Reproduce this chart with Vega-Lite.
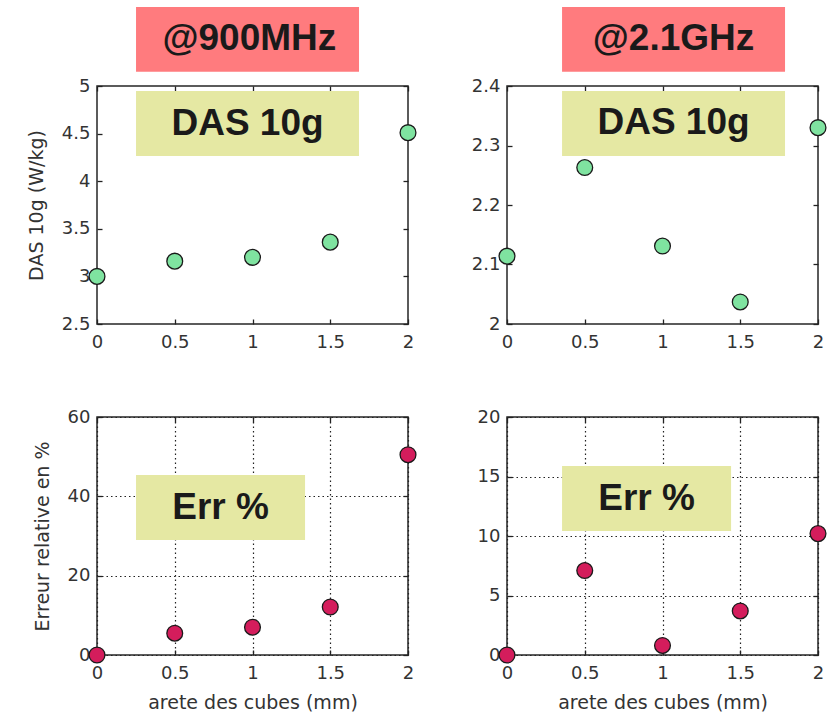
{
  "$schema": "https://vega.github.io/schema/vega-lite/v6.json",
  "autosize": {"type": "pad"},
  "padding": {"left": 26, "top": 6, "right": 0, "bottom": 0},
  "background": "white",
  "config": {
    "view": {"stroke": "#262626", "strokeWidth": 1.5},
    "numberFormat": "~r",
    "axis": {
      "labelFont": "DejaVu Sans",
      "labelFontSize": 18,
      "labelColor": "#333333",
      "labelFlush": false,
      "labelOverlap": false,
      "titleFont": "DejaVu Sans",
      "titleFontSize": 19,
      "titleFontWeight": "normal",
      "titleColor": "#333333",
      "tickColor": "#222222",
      "tickWidth": 1.3,
      "tickSize": -5,
      "domain": false,
      "grid": false
    },
    "axisX": {"labelPadding": 14, "titlePadding": 11},
    "axisY": {"labelPadding": 12, "titlePadding": 15}
  },
  "datasets": {
    "das900": [
      {"arete": 0, "das": 3.0},
      {"arete": 0.5, "das": 3.16},
      {"arete": 1, "das": 3.2},
      {"arete": 1.5, "das": 3.36},
      {"arete": 2, "das": 4.51}
    ],
    "das2100": [
      {"arete": 0, "das": 2.114},
      {"arete": 0.5, "das": 2.263},
      {"arete": 1, "das": 2.131},
      {"arete": 1.5, "das": 2.037},
      {"arete": 2, "das": 2.33}
    ],
    "err900": [
      {"arete": 0, "err": 0},
      {"arete": 0.5, "err": 5.5},
      {"arete": 1, "err": 7.0},
      {"arete": 1.5, "err": 12.1},
      {"arete": 2, "err": 50.5}
    ],
    "err2100": [
      {"arete": 0, "err": 0},
      {"arete": 0.5, "err": 7.1},
      {"arete": 1, "err": 0.8},
      {"arete": 1.5, "err": 3.7},
      {"arete": 2, "err": 10.2}
    ],
    "freq900": [{"label": "@900MHz"}],
    "freq2100": [{"label": "@2.1GHz"}],
    "das": [{"label": "DAS 10g"}],
    "err": [{"label": "Err %"}]
  },
  "columns": 2,
  "spacing": {"row": 93, "column": 99},
  "bounds": "flush",
  "concat": [
    {
      "width": 311,
      "height": 238,
      "resolve": {"axis": {"x": "independent", "y": "independent"}},
      "layer": [
        {
          "data": {"name": "freq900"},
          "mark": {"type": "rect", "color": "#ff7b7e"},
          "encoding": {
            "x": {"datum": 0.251, "type": "quantitative", "scale": {"domain": [0, 2], "nice": false, "zero": false}, "axis": null},
            "x2": {"datum": 1.685},
            "y": {"datum": 5.15, "type": "quantitative", "scale": {"domain": [2.5, 5], "nice": false, "zero": false}, "axis": null},
            "y2": {"datum": 5.83}
          }
        },
        {
          "data": {"name": "freq900"},
          "mark": {"type": "text", "font": "Liberation Sans", "fontWeight": "bold", "fontSize": 37, "color": "#1a1a1a", "baseline": "middle", "align": "center"},
          "encoding": {
            "x": {"datum": 0.98, "type": "quantitative", "scale": {"domain": [0, 2], "nice": false, "zero": false}, "axis": null},
            "y": {"datum": 5.49, "type": "quantitative", "scale": {"domain": [2.5, 5], "nice": false, "zero": false}, "axis": null},
            "text": {"field": "label"}
          }
        },
        {
          "data": {"name": "das"},
          "mark": {"type": "rect", "color": "#e5e8a3"},
          "encoding": {
            "x": {"datum": 0.251, "type": "quantitative", "scale": {"domain": [0, 2], "nice": false, "zero": false}, "axis": null},
            "x2": {"datum": 1.685},
            "y": {"datum": 4.265, "type": "quantitative", "scale": {"domain": [2.5, 5], "nice": false, "zero": false}, "axis": null},
            "y2": {"datum": 4.947}
          }
        },
        {
          "data": {"name": "das"},
          "mark": {"type": "text", "font": "Liberation Sans", "fontWeight": "bold", "fontSize": 37, "color": "#1a1a1a", "baseline": "middle", "align": "center"},
          "encoding": {
            "x": {"datum": 0.968, "type": "quantitative", "scale": {"domain": [0, 2], "nice": false, "zero": false}, "axis": null},
            "y": {"datum": 4.606, "type": "quantitative", "scale": {"domain": [2.5, 5], "nice": false, "zero": false}, "axis": null},
            "text": {"field": "label"}
          }
        },
        {
          "data": {"name": "das900"},
          "mark": {"type": "point", "opacity": 0},
          "encoding": {
            "x": {"field": "arete", "type": "quantitative", "scale": {"domain": [0, 2], "nice": false, "zero": false},
                  "axis": {"orient": "top", "labels": false, "title": null, "values": [0, 0.5, 1, 1.5, 2]}},
            "y": {"field": "das", "type": "quantitative", "scale": {"domain": [2.5, 5], "nice": false, "zero": false},
                  "axis": {"orient": "right", "labels": false, "title": null, "values": [2.5, 3, 3.5, 4, 4.5, 5]}}
          }
        },
        {
          "data": {"name": "das900"},
          "mark": {"type": "point", "shape": "circle", "filled": true, "size": 250, "color": "#7fe3a0", "stroke": "#1a1a1a", "strokeWidth": 1.3, "opacity": 1},
          "encoding": {
            "x": {"field": "arete", "type": "quantitative", "scale": {"domain": [0, 2], "nice": false, "zero": false},
                  "axis": {"orient": "bottom", "title": null, "values": [0, 0.5, 1, 1.5, 2]}},
            "y": {"field": "das", "type": "quantitative", "scale": {"domain": [2.5, 5], "nice": false, "zero": false},
                  "axis": {"orient": "left", "title": "DAS 10g (W/kg)", "values": [2.5, 3, 3.5, 4, 4.5, 5]}}
          }
        }
      ]
    },
    {
      "width": 311,
      "height": 238,
      "resolve": {"axis": {"x": "independent", "y": "independent"}},
      "layer": [
        {
          "data": {"name": "freq2100"},
          "mark": {"type": "rect", "color": "#ff7b7e"},
          "encoding": {
            "x": {"datum": 0.354, "type": "quantitative", "scale": {"domain": [0, 2], "nice": false, "zero": false}, "axis": null},
            "x2": {"datum": 1.788},
            "y": {"datum": 2.424, "type": "quantitative", "scale": {"domain": [2, 2.4], "nice": false, "zero": false}, "axis": null},
            "y2": {"datum": 2.5328}
          }
        },
        {
          "data": {"name": "freq2100"},
          "mark": {"type": "text", "font": "Liberation Sans", "fontWeight": "bold", "fontSize": 37, "color": "#1a1a1a", "baseline": "middle", "align": "center"},
          "encoding": {
            "x": {"datum": 1.071, "type": "quantitative", "scale": {"domain": [0, 2], "nice": false, "zero": false}, "axis": null},
            "y": {"datum": 2.4784, "type": "quantitative", "scale": {"domain": [2, 2.4], "nice": false, "zero": false}, "axis": null},
            "text": {"field": "label"}
          }
        },
        {
          "data": {"name": "das"},
          "mark": {"type": "rect", "color": "#e5e8a3"},
          "encoding": {
            "x": {"datum": 0.354, "type": "quantitative", "scale": {"domain": [0, 2], "nice": false, "zero": false}, "axis": null},
            "x2": {"datum": 1.788},
            "y": {"datum": 2.2824, "type": "quantitative", "scale": {"domain": [2, 2.4], "nice": false, "zero": false}, "axis": null},
            "y2": {"datum": 2.3916}
          }
        },
        {
          "data": {"name": "das"},
          "mark": {"type": "text", "font": "Liberation Sans", "fontWeight": "bold", "fontSize": 37, "color": "#1a1a1a", "baseline": "middle", "align": "center"},
          "encoding": {
            "x": {"datum": 1.071, "type": "quantitative", "scale": {"domain": [0, 2], "nice": false, "zero": false}, "axis": null},
            "y": {"datum": 2.337, "type": "quantitative", "scale": {"domain": [2, 2.4], "nice": false, "zero": false}, "axis": null},
            "text": {"field": "label"}
          }
        },
        {
          "data": {"name": "das2100"},
          "mark": {"type": "point", "opacity": 0},
          "encoding": {
            "x": {"field": "arete", "type": "quantitative", "scale": {"domain": [0, 2], "nice": false, "zero": false},
                  "axis": {"orient": "top", "labels": false, "title": null, "values": [0, 0.5, 1, 1.5, 2]}},
            "y": {"field": "das", "type": "quantitative", "scale": {"domain": [2, 2.4], "nice": false, "zero": false},
                  "axis": {"orient": "right", "labels": false, "title": null, "values": [2, 2.1, 2.2, 2.3, 2.4]}}
          }
        },
        {
          "data": {"name": "das2100"},
          "mark": {"type": "point", "shape": "circle", "filled": true, "size": 250, "color": "#7fe3a0", "stroke": "#1a1a1a", "strokeWidth": 1.3, "opacity": 1},
          "encoding": {
            "x": {"field": "arete", "type": "quantitative", "scale": {"domain": [0, 2], "nice": false, "zero": false},
                  "axis": {"orient": "bottom", "title": null, "values": [0, 0.5, 1, 1.5, 2]}},
            "y": {"field": "das", "type": "quantitative", "scale": {"domain": [2, 2.4], "nice": false, "zero": false},
                  "axis": {"orient": "left", "title": null, "values": [2, 2.1, 2.2, 2.3, 2.4]}}
          }
        }
      ]
    },
    {
      "width": 311,
      "height": 238,
      "resolve": {"axis": {"x": "independent", "y": "independent"}},
      "layer": [
        {
          "data": {"name": "err900"},
          "mark": {"type": "point", "opacity": 0},
          "encoding": {
            "x": {"field": "arete", "type": "quantitative", "scale": {"domain": [0, 2], "nice": false, "zero": false},
                  "axis": {"orient": "top", "labels": false, "title": null, "values": [0, 0.5, 1, 1.5, 2]}},
            "y": {"field": "err", "type": "quantitative", "scale": {"domain": [0, 60], "nice": false, "zero": false},
                  "axis": {"orient": "right", "labels": false, "title": null, "values": [0, 20, 40, 60]}}
          }
        },
        {
          "data": {"name": "err900"},
          "mark": {"type": "point", "shape": "circle", "filled": true, "size": 250, "color": "#d41d5c", "stroke": "#1a1a1a", "strokeWidth": 1.3, "opacity": 1},
          "encoding": {
            "x": {"field": "arete", "type": "quantitative", "scale": {"domain": [0, 2], "nice": false, "zero": false},
                  "axis": {"orient": "bottom", "title": "arete des cubes (mm)", "values": [0, 0.5, 1, 1.5, 2],
                           "grid": true, "gridColor": "#222222", "gridDash": [1.5, 3], "gridWidth": 1.2}},
            "y": {"field": "err", "type": "quantitative", "scale": {"domain": [0, 60], "nice": false, "zero": false},
                  "axis": {"orient": "left", "title": "Erreur relative en %", "values": [0, 20, 40, 60],
                           "grid": true, "gridColor": "#222222", "gridDash": [1.5, 3], "gridWidth": 1.2}}
          }
        },
        {
          "data": {"name": "err"},
          "mark": {"type": "rect", "color": "#e5e8a3"},
          "encoding": {
            "x": {"datum": 0.251, "type": "quantitative", "scale": {"domain": [0, 2], "nice": false, "zero": false}, "axis": null},
            "x2": {"datum": 1.338},
            "y": {"datum": 28.99, "type": "quantitative", "scale": {"domain": [0, 60], "nice": false, "zero": false}, "axis": null},
            "y2": {"datum": 45.38}
          }
        },
        {
          "data": {"name": "err"},
          "mark": {"type": "text", "font": "Liberation Sans", "fontWeight": "bold", "fontSize": 37, "color": "#1a1a1a", "baseline": "middle", "align": "center"},
          "encoding": {
            "x": {"datum": 0.7945, "type": "quantitative", "scale": {"domain": [0, 2], "nice": false, "zero": false}, "axis": null},
            "y": {"datum": 37.18, "type": "quantitative", "scale": {"domain": [0, 60], "nice": false, "zero": false}, "axis": null},
            "text": {"field": "label"}
          }
        }
      ]
    },
    {
      "width": 311,
      "height": 238,
      "resolve": {"axis": {"x": "independent", "y": "independent"}},
      "layer": [
        {
          "data": {"name": "err2100"},
          "mark": {"type": "point", "opacity": 0},
          "encoding": {
            "x": {"field": "arete", "type": "quantitative", "scale": {"domain": [0, 2], "nice": false, "zero": false},
                  "axis": {"orient": "top", "labels": false, "title": null, "values": [0, 0.5, 1, 1.5, 2]}},
            "y": {"field": "err", "type": "quantitative", "scale": {"domain": [0, 20], "nice": false, "zero": false},
                  "axis": {"orient": "right", "labels": false, "title": null, "values": [0, 5, 10, 15, 20]}}
          }
        },
        {
          "data": {"name": "err2100"},
          "mark": {"type": "point", "shape": "circle", "filled": true, "size": 250, "color": "#d41d5c", "stroke": "#1a1a1a", "strokeWidth": 1.3, "opacity": 1},
          "encoding": {
            "x": {"field": "arete", "type": "quantitative", "scale": {"domain": [0, 2], "nice": false, "zero": false},
                  "axis": {"orient": "bottom", "title": "arete des cubes (mm)", "values": [0, 0.5, 1, 1.5, 2],
                           "grid": true, "gridColor": "#222222", "gridDash": [1.5, 3], "gridWidth": 1.2}},
            "y": {"field": "err", "type": "quantitative", "scale": {"domain": [0, 20], "nice": false, "zero": false},
                  "axis": {"orient": "left", "title": null, "values": [0, 5, 10, 15, 20],
                           "grid": true, "gridColor": "#222222", "gridDash": [1.5, 3], "gridWidth": 1.2}}
          }
        },
        {
          "data": {"name": "err"},
          "mark": {"type": "rect", "color": "#e5e8a3"},
          "encoding": {
            "x": {"datum": 0.354, "type": "quantitative", "scale": {"domain": [0, 2], "nice": false, "zero": false}, "axis": null},
            "x2": {"datum": 1.441},
            "y": {"datum": 10.42, "type": "quantitative", "scale": {"domain": [0, 20], "nice": false, "zero": false}, "axis": null},
            "y2": {"datum": 15.88}
          }
        },
        {
          "data": {"name": "err"},
          "mark": {"type": "text", "font": "Liberation Sans", "fontWeight": "bold", "fontSize": 37, "color": "#1a1a1a", "baseline": "middle", "align": "center"},
          "encoding": {
            "x": {"datum": 0.8975, "type": "quantitative", "scale": {"domain": [0, 2], "nice": false, "zero": false}, "axis": null},
            "y": {"datum": 13.15, "type": "quantitative", "scale": {"domain": [0, 20], "nice": false, "zero": false}, "axis": null},
            "text": {"field": "label"}
          }
        }
      ]
    }
  ]
}
